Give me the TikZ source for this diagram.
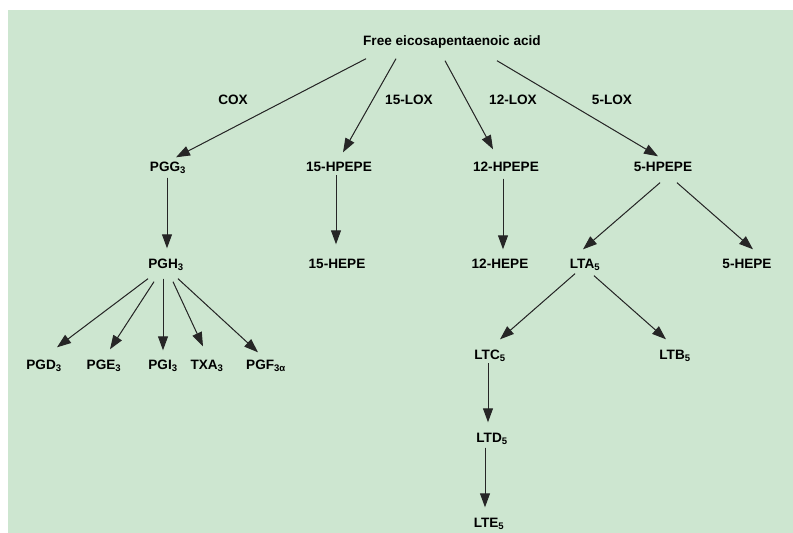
\documentclass[tikz,border=0pt]{standalone}
\usepackage{fontspec}
\setmainfont{Liberation Sans}
\usetikzlibrary{arrows.meta}
\definecolor{panelgreen}{RGB}{205,230,208}

\begin{document}
\begin{tikzpicture}[
  x=1pt, y=-1pt,
  cmpd/.style={inner sep=1pt, font=\bfseries\fontsize{13.6}{15}\selectfont, text height=9.5pt, text depth=2.5pt},
  enz/.style={cmpd},
  arr/.style={-{Triangle[length=14pt,width=10pt]}, line width=1pt, draw=black!85, fill=black!85}
]
  % page and green panel
  \useasboundingbox[fill=white] (0,0) rectangle (793,533);
  \fill[panelgreen] (8,10) rectangle (793,533);

  % precursor and enzymes
  \node[cmpd] (epa) at (452,42) {Free eicosapentaenoic acid};
  \node[enz] (cox) at (233,101) {COX};
  \node[enz] (lox15) at (409,101) {15-LOX};
  \node[enz] (lox12) at (513,101) {12-LOX};
  \node[enz] (lox5) at (612,101) {5-LOX};

  % first products
  \node[cmpd] (pgg) at (168,168) {PGG\textsubscript{3}};
  \node[cmpd] (hp15) at (339,168) {15-HPEPE};
  \node[cmpd] (hp12) at (506,168) {12-HPEPE};
  \node[cmpd] (hp5) at (663,168) {5-HPEPE};

  \node[cmpd] (pgh) at (166,265) {PGH\textsubscript{3}};
  \node[cmpd] (he15) at (337,265) {15-HEPE};
  \node[cmpd] (he12) at (500,265) {12-HEPE};
  \node[cmpd] (lta) at (585,265) {LTA\textsubscript{5}};
  \node[cmpd] (he5) at (747,265) {5-HEPE};

  % prostanoids
  \node[cmpd] (pgd) at (44,366) {PGD\textsubscript{3}};
  \node[cmpd] (pge) at (104,366) {PGE\textsubscript{3}};
  \node[cmpd] (pgi) at (163,366) {PGI\textsubscript{3}};
  \node[cmpd] (txa) at (207,366) {TXA\textsubscript{3}};
  \node[cmpd] (pgf) at (266,366) {PGF\textsubscript{3α}};

  % leukotrienes
  \node[cmpd] (ltc) at (490,356) {LTC\textsubscript{5}};
  \node[cmpd] (ltb) at (675,356) {LTB\textsubscript{5}};
  \node[cmpd] (ltd) at (492,439) {LTD\textsubscript{5}};
  \node[cmpd] (lte) at (489,524) {LTE\textsubscript{5}};

  \draw[arr] ([xshift=-86pt,yshift=-9.5pt]epa.south) -- ([xshift=8pt,yshift=3.5pt]pgg.north);
  \draw[arr] ([xshift=-56pt,yshift=-9.5pt]epa.south) -- ([xshift=4pt,yshift=8.5pt]hp15.north);
  \draw[arr] ([xshift=-7pt,yshift=-11.5pt]epa.south) -- ([xshift=-13pt,yshift=11.5pt]hp12.north);
  \draw[arr] ([xshift=45pt,yshift=-11.5pt]epa.south) -- ([xshift=-5pt,yshift=4.5pt]hp5.north);

  \draw[arr] ([xshift=-1pt,yshift=-2.5pt]pgg.south) -- ([xshift=1pt,yshift=9.5pt]pgh.north);
  \draw[arr] ([xshift=-3pt]hp15.south) -- ([xshift=-1pt,yshift=13.5pt]he15.north);
  \draw[arr] ([xshift=-3pt,yshift=-3.5pt]hp12.south) -- ([xshift=3pt,yshift=8.5pt]he12.north);
  \draw[arr] ([xshift=-3pt,yshift=-7.5pt]hp5.south) -- ([xshift=-2pt,yshift=8.5pt]lta.north);
  \draw[arr] ([xshift=14pt,yshift=-7.5pt]hp5.south) -- ([xshift=6pt,yshift=8.5pt]he5.north);

  \draw[arr] ([xshift=-18pt,yshift=-6.5pt]pgh.south) -- ([xshift=13pt,yshift=11.5pt]pgd.north);
  \draw[arr] ([xshift=-12pt,yshift=-9.5pt]pgh.south) -- ([xshift=6pt,yshift=9.5pt]pge.north);
  \draw[arr] ([xshift=-3pt,yshift=-6.5pt]pgh.south) -- ([yshift=8.5pt]pgi.north);
  \draw[arr] ([xshift=7pt,yshift=-9.5pt]pgh.south) -- ([xshift=-4pt,yshift=12.5pt]txa.north);
  \draw[arr] ([xshift=12pt,yshift=-6.5pt]pgh.south) -- ([xshift=-8pt,yshift=6.5pt]pgf.north);

  \draw[arr] ([xshift=-10pt,yshift=-1.5pt]lta.south) -- ([xshift=10pt,yshift=9.5pt]ltc.north);
  \draw[arr] ([xshift=9pt,yshift=-3.5pt]lta.south) -- ([xshift=-9pt,yshift=9.5pt]ltb.north);
  \draw[arr] ([xshift=-2pt]ltc.south) -- ([xshift=-4pt,yshift=9.5pt]ltd.north);
  \draw[arr] ([xshift=-7pt,yshift=-1.5pt]ltd.south) -- ([xshift=-4pt,yshift=9.5pt]lte.north);
\end{tikzpicture}
\end{document}
